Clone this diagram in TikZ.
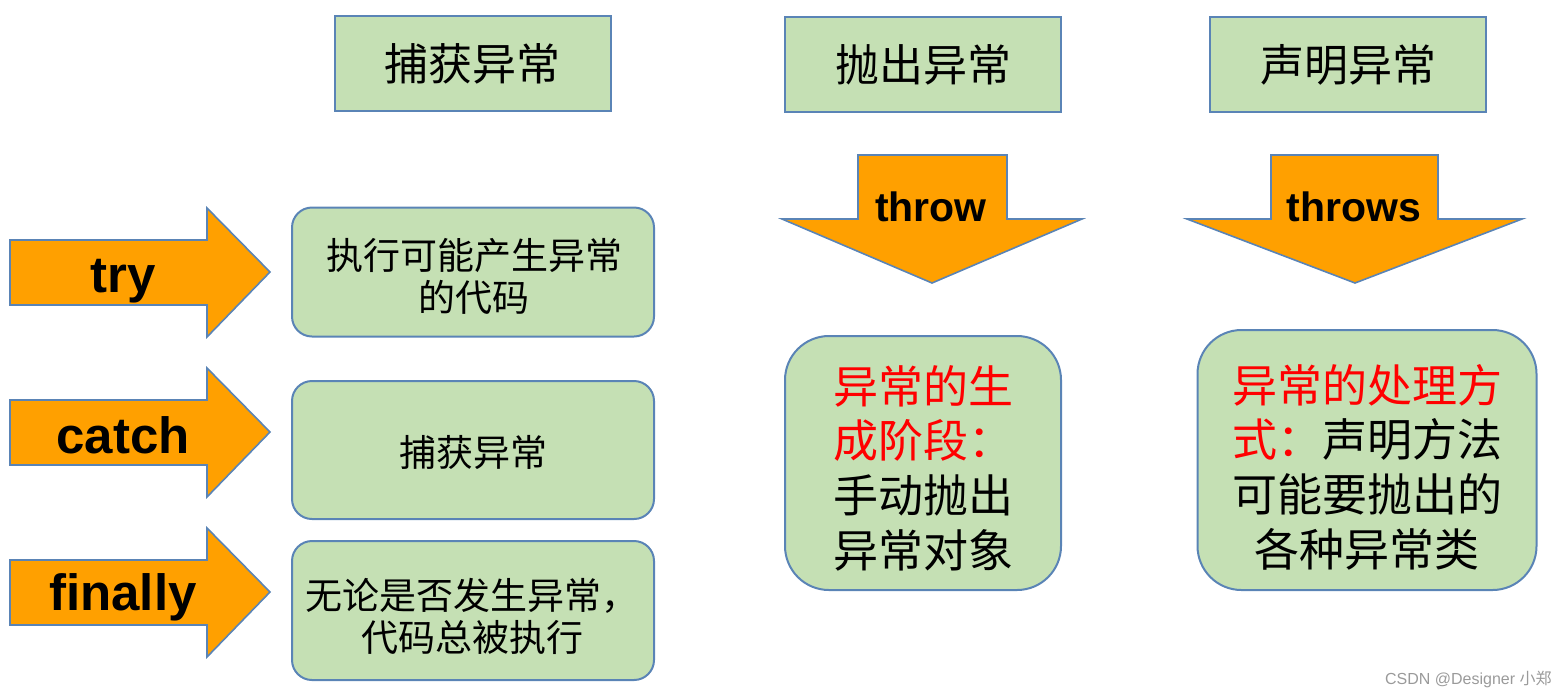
\documentclass[tikz,border=0pt]{standalone}
\usepackage{fontspec}
\setmainfont{Liberation Sans}
\newfontfamily\cjk{Noto Sans CJK SC}
\definecolor{boxgreen}{HTML}{C5E0B4}
\definecolor{boxblue}{HTML}{5A84B6}
\definecolor{arroworange}{HTML}{FFA000}
\definecolor{markgray}{HTML}{9A9A9A}
\begin{document}
\begin{tikzpicture}[x=0.5pt,y=-0.5pt,
  topbox/.style={draw=boxblue, fill=boxgreen, line width=1pt, inner sep=0pt,
    minimum width=138pt, minimum height=47.5pt,
    font=\cjk\fontsize{22}{26}\selectfont},
  roundbox/.style={draw=boxblue, fill=boxgreen, line width=1pt, inner sep=0pt,
    rounded corners=10pt},
  smalltext/.style={align=center, inner sep=0pt,
    font=\cjk\fontsize{18.5}{21}\selectfont},
  bigroundbox/.style={draw=boxblue, fill=boxgreen, line width=1pt, inner sep=0pt,
    rounded corners=22pt},
  bigtext/.style={align=center, inner sep=0pt,
    font=\cjk\fontsize{22.5}{27.3}\selectfont},
  orangearrow/.style={draw=boxblue, fill=arroworange, line width=0.8pt},
  arrowlabel/.style={font=\bfseries\fontsize{25.5}{30}\selectfont, inner sep=0pt},
  downlabel/.style={font=\bfseries\fontsize{20.5}{24}\selectfont, inner sep=0pt}
]
\useasboundingbox (0,0) rectangle (1566,698);

% top headers
\node[topbox] (hcatch) at (472.5,63.5) {捕获异常};
\node[topbox] (hthrow) at (923,64.5) {抛出异常};
\node[topbox] (hthrows) at (1348,64.5) {声明异常};

% right-pointing arrows
\draw[orangearrow] (10,240) -- (207,240) -- (207,208) -- (270,272) -- (207,337) -- (207,305) -- (10,305) -- cycle;
\node[arrowlabel] (ltry) at (123,281) {try};
\draw[orangearrow] (10,400) -- (207,400) -- (207,368) -- (270,432) -- (207,497) -- (207,465) -- (10,465) -- cycle;
\node[arrowlabel] (lcatch) at (123,435) {catch};
\draw[orangearrow] (10,560) -- (207,560) -- (207,528) -- (270,592) -- (207,657) -- (207,625) -- (10,625) -- cycle;
\node[arrowlabel] (lfinally) at (123,597) {finally};

% left boxes
\node[roundbox, minimum width=181pt, minimum height=64.5pt] (btry) at (473,272) {};
\node[smalltext] (ttry) at (474,276) {执行可能产生异常\\的代码};
\node[roundbox, minimum width=181pt, minimum height=69pt] (bcatch) at (473,450) {};
\node[smalltext] (tcatch) at (473,452) {捕获异常};
\node[roundbox, minimum width=181pt, minimum height=69.5pt] (bfinally) at (473,610.5) {};
\node[smalltext] (tfinally) at (472,616) {无论是否发生异常，\\代码总被执行};

% down arrows
\draw[orangearrow] (858,155) -- (1007,155) -- (1007,219) -- (1082,219) -- (932,283) -- (782,219) -- (858,219) -- cycle;
\node[downlabel] (lthrow) at (931,207) {throw};
\draw[orangearrow] (1271,155) -- (1438,155) -- (1438,219) -- (1522,219) -- (1355,283) -- (1187,219) -- (1271,219) -- cycle;
\node[downlabel] (lthrows) at (1354,207) {throws};

% right boxes
\node[bigroundbox, minimum width=138pt, minimum height=127pt] (bthrow) at (923,463) {};
\node[bigtext] (tthrow) at (923,468)
  {\textcolor{red}{异常的生}\\\textcolor{red}{成阶段：}\\手动抛出\\异常对象};
\node[bigroundbox, minimum width=169.5pt, minimum height=130pt] (bthrows) at (1367,460) {};
\node[bigtext] (tthrows) at (1367,467)
  {\textcolor{red}{异常的处理方}\\\textcolor{red}{式：}声明方法\\可能要抛出的\\各种异常类};

% watermark
\node[anchor=east, text=markgray, inner sep=0pt, font=\fontsize{8}{10}\selectfont] (wm) at (1552,679)
  {CSDN @Designer {\cjk 小郑}};
\end{tikzpicture}
\end{document}
